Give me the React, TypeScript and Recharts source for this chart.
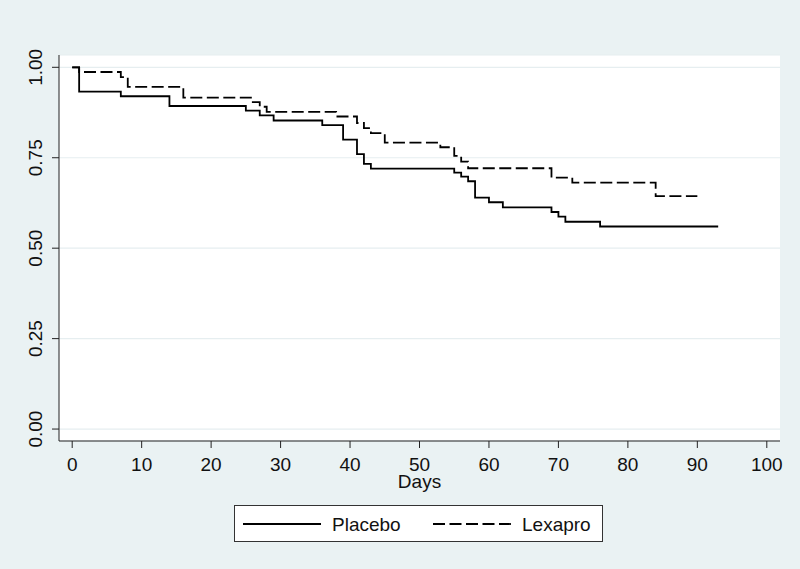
import { LineChart, Line, XAxis, YAxis, CartesianGrid } from "recharts";

// Kaplan-Meier estimates
const placeboDays = [0, 1, 7, 14, 25, 27, 29, 36, 39, 41, 42, 43, 55, 56, 57, 58, 60, 62, 69, 70, 71, 76, 93];
const placeboSurv = [1, 0.933, 0.92, 0.893, 0.88, 0.867, 0.853, 0.84, 0.8, 0.76, 0.733, 0.72, 0.709, 0.698, 0.685, 0.64, 0.627, 0.613, 0.6, 0.587, 0.573, 0.56, 0.56];

const lexaproDays = [0, 1, 7, 8, 16, 26, 27, 28, 38, 41, 42, 43, 45, 53, 55, 56, 57, 69, 72, 84, 90];
const lexaproSurv = [1, 0.987, 0.973, 0.946, 0.916, 0.904, 0.891, 0.877, 0.864, 0.846, 0.832, 0.818, 0.792, 0.779, 0.755, 0.739, 0.721, 0.695, 0.681, 0.644, 0.644];

const xTicks = [0, 10, 20, 30, 40, 50, 60, 70, 80, 90, 100];
const yTicks = [0, 0.25, 0.5, 0.75, 1];

const seriesNames = ["Placebo", "Lexapro"];

const placeboData = placeboDays.map((d, i) => ({ day: d, surv: placeboSurv[i] }));
const lexaproData = lexaproDays.map((d, i) => ({ day: d, surv: lexaproSurv[i] }));

const FONT = '"Liberation Sans", Arial, Helvetica, sans-serif';
const BG = "#EAF2F3";
const DASH = "12 4.5";

function YTick(props: any) {
  const { x, y, payload } = props;
  const cx = x - 14;
  return (
    <text
      x={cx}
      y={y}
      transform={`rotate(-90, ${cx}, ${y})`}
      textAnchor="middle"
      dominantBaseline="central"
      fontSize={19}
      fontFamily={FONT}
      fill="#111"
    >
      {payload.value.toFixed(2)}
    </text>
  );
}

function XTick(props: any) {
  const { x, y, payload } = props;
  return (
    <text x={x} y={y} dy={20.5} textAnchor="middle" fontSize={19} fontFamily={FONT} fill="#111">
      {payload.value}
    </text>
  );
}

function DaysLabel(props: any) {
  const vb = props.viewBox;
  return (
    <text x={vb.x + vb.width / 2} y={vb.y + 47} textAnchor="middle" fontSize={19} fontFamily={FONT} fill="#111">
      Days
    </text>
  );
}

export default function App() {
  return (
    <div style={{ position: "absolute", left: 0, top: 0, width: 800, height: 569, background: BG, fontFamily: FONT }}>
      <LineChart width={800} height={569} margin={{ top: 55, right: 20, left: 0, bottom: 68 }}>
        <CartesianGrid vertical={false} stroke="#E6EEF0" strokeWidth={1.2} fill="#fff" fillOpacity={1} />
        <XAxis
          type="number"
          dataKey="day"
          domain={[-1.9, 101.9]}
          ticks={xTicks}
          interval={0}
          height={60}
          tickSize={7}
          stroke="#222"
          tick={<XTick />}
          label={<DaysLabel />}
        />
        <YAxis
          type="number"
          dataKey="surv"
          domain={[-0.033, 1.034]}
          ticks={yTicks}
          interval={0}
          width={59}
          tickSize={7}
          stroke="#222"
          tick={<YTick />}
        />
        <Line
          data={placeboData}
          dataKey="surv"
          name={seriesNames[0]}
          type="stepAfter"
          stroke="#000"
          strokeWidth={1.8}
          dot={false}
          activeDot={false}
          isAnimationActive={false}
        />
        <Line
          data={lexaproData}
          dataKey="surv"
          name={seriesNames[1]}
          type="stepAfter"
          stroke="#000"
          strokeWidth={1.8}
          strokeDasharray={DASH}
          dot={false}
          activeDot={false}
          isAnimationActive={false}
        />
      </LineChart>
      <div
        style={{
          position: "absolute",
          left: 234,
          top: 505,
          width: 369,
          height: 37,
          boxSizing: "border-box",
          border: "1px solid #333",
          background: "#fff",
        }}
      >
        <svg width={367} height={35} style={{ position: "absolute", left: 0, top: 0 }}>
          <line x1={8} y1={18} x2={86} y2={18} stroke="#000" strokeWidth={1.8} />
          <text x={97} y={25} fontSize={19} fontFamily={FONT} fill="#111">
            {seriesNames[0]}
          </text>
          <line x1={198} y1={18} x2={276} y2={18} stroke="#000" strokeWidth={1.8} strokeDasharray={DASH} />
          <text x={287} y={25} fontSize={19} fontFamily={FONT} fill="#111">
            {seriesNames[1]}
          </text>
        </svg>
      </div>
    </div>
  );
}
